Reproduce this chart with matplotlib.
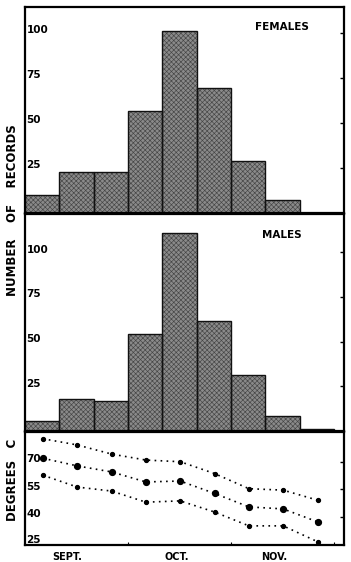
import matplotlib.pyplot as plt
import matplotlib.transforms as mtransforms
import numpy as np

# ten-day periods, Sept 1 .. Nov 30
periods = np.arange(9)
females = [10, 23, 23, 56.5, 101, 69.5, 29, 7, 0]
males = [5.5, 18, 17, 54.5, 111, 61.5, 31.5, 8.5, 1]

temp_max = [82.8, 79.4, 74.4, 71.1, 70.2, 63.7, 55.4, 54.6, 49.1]
temp_mean = [72.1, 67.9, 64.6, 59.1, 59.6, 52.8, 45.4, 44.3, 37.2]
temp_min = [62.8, 56.3, 54.1, 48.0, 48.7, 42.6, 35.0, 35.0, 26.3]

count_ticks = [25, 50, 75, 100]
temp_ticks = [25, 40, 55, 70]
months = ['SEPT.', 'OCT.', 'NOV.']
month_pos = [1.22, 4.42, 7.25]
month_edges = [3, 6, 9]

plt.rcParams['font.family'] = ['DejaVu Sans']
plt.rcParams['hatch.linewidth'] = 0.45

fig = plt.figure(figsize=(3.51, 5.62), dpi=100)
W, H = 351, 562


def box(left, top, right, bottom):
    return [left / W, 1 - bottom / H, (right - left) / W, (bottom - top) / H]


ax_f = fig.add_axes(box(25, 7, 344, 213))
ax_m = fig.add_axes(box(25, 214, 344, 431))
ax_t = fig.add_axes(box(25, 432, 344, 545))

xmax = 9.29


def hist_panel(ax, vals, ymax, title):
    ax.bar(periods, vals, width=1.0, align='edge', color='#8a8a8a',
           hatch='xxxxxxx', edgecolor='#454545', linewidth=0)
    ax.bar(periods, vals, width=1.0, align='edge', fill=False,
           edgecolor='#111111', linewidth=1.0)
    ax.set_xlim(0, xmax)
    ax.set_ylim(0, ymax)
    ax.set_xticks([])
    ax.set_yticks(count_ticks)
    ax.tick_params(axis='y', left=False, labelleft=False, right=True,
                   direction='in', length=3, width=1)
    trans = mtransforms.blended_transform_factory(ax.transAxes, ax.transData)
    for t in count_ticks:
        ax.text(0.005, t + 1.5, str(t), transform=trans, ha='left',
                va='center', fontsize=7.5, fontweight='bold')
    ax.text(0.805, 0.905, title, transform=ax.transAxes, ha='center',
            va='center', fontsize=7.5, fontweight='bold')
    for s in ax.spines.values():
        s.set_linewidth(1.6)


hist_panel(ax_f, females, 114.5, 'FEMALES')
hist_panel(ax_m, males, 121.5, 'MALES')

# temperature panel
xs = periods + 0.52
dot = (0, (1, 2.6))
ax_t.plot(xs, temp_max, color='black', linestyle=dot, linewidth=1.2,
          marker='o', markersize=2.8)
ax_t.plot(xs, temp_mean, color='black', linestyle=dot, linewidth=1.2,
          marker='o', markersize=4.2)
ax_t.plot(xs, temp_min, color='black', linestyle=dot, linewidth=1.2,
          marker='o', markersize=2.8)
ax_t.set_xlim(0, xmax)
ax_t.set_ylim(24.5, 86.5)
ax_t.set_yticks([40, 55, 70])
ax_t.tick_params(axis='y', left=False, labelleft=False, right=True,
                 direction='in', length=3, width=1)
trans = mtransforms.blended_transform_factory(ax_t.transAxes, ax_t.transData)
for t in temp_ticks:
    yy = t + 2.5 if t == 25 else t + 1.5
    ax_t.text(0.005, yy, str(t), transform=trans, ha='left', va='center',
              fontsize=7.5, fontweight='bold')
ax_t.set_xticks(month_edges)
ax_t.tick_params(axis='x', direction='in', length=2, width=0.8,
                 labelbottom=False)
for name, p in zip(months, month_pos):
    ax_t.text(p, -0.06, name, transform=mtransforms.blended_transform_factory(
        ax_t.transData, ax_t.transAxes), ha='center', va='top',
        fontsize=7, fontweight='bold')
for s in ax_t.spines.values():
    s.set_linewidth(1.6)

fig.text(13 / W, 1 - 210 / H, 'NUMBER    OF    RECORDS', rotation=90,
         ha='center', va='center', fontsize=8.5, fontweight='bold')
fig.text(13 / W, 1 - 480 / H, 'DEGREES   C', rotation=90,
         ha='center', va='center', fontsize=8.5, fontweight='bold')

fig.savefig('out.png', dpi=100)
